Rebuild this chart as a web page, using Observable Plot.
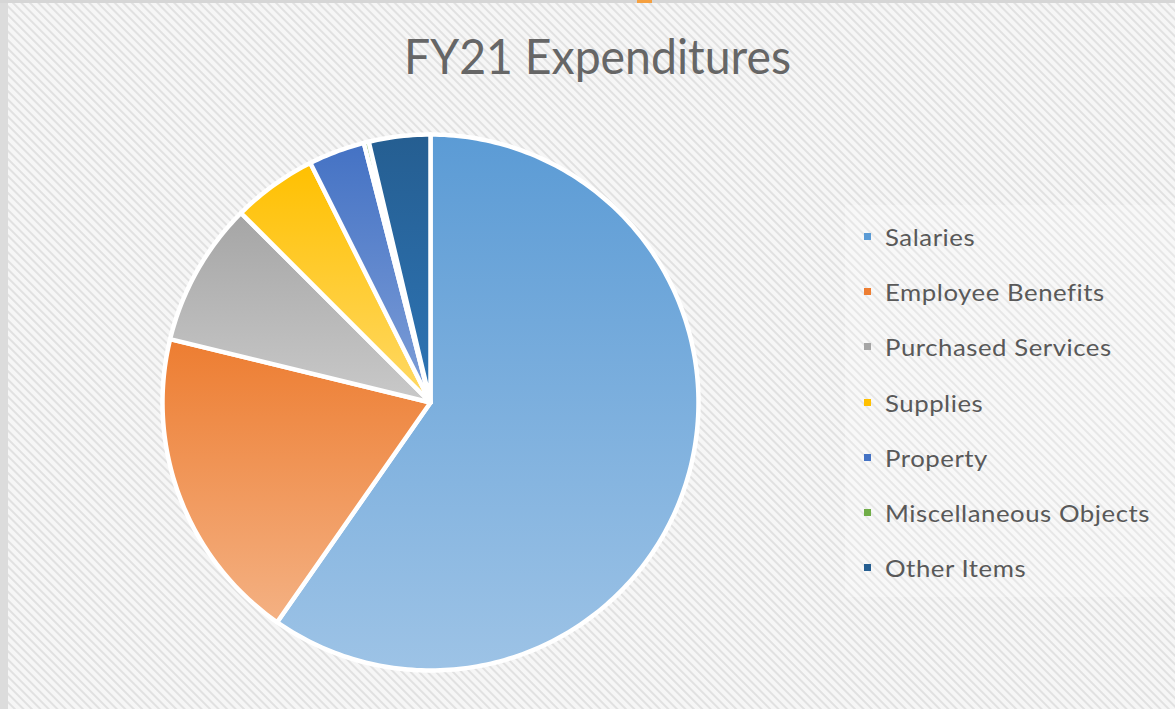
<!DOCTYPE html>
<html>
<head>
<meta charset="utf-8">
<script src="https://cdn.jsdelivr.net/npm/d3@7"></script>
<script src="https://cdn.jsdelivr.net/npm/@observablehq/plot@0.6"></script>
<style>
  html, body { margin: 0; padding: 0; }
  body { width: 1175px; height: 709px; overflow: hidden; position: relative;
    background: repeating-linear-gradient(45deg, #f6f6f6 0px, #f6f6f6 3px, #e1e1e1 4px, #e1e1e1 5px, #f6f6f6 6px);
    font-family: Lato, "Open Sans", sans-serif; }
  #leftbar { position: absolute; left: 0; top: 0; width: 8px; height: 709px; background: #dcdcdc; }
  #topbar { position: absolute; left: 0; top: 0; width: 1175px; height: 3px; background: #d6d6d6; }
  #topmark { position: absolute; left: 637px; top: 0; width: 15px; height: 3px; background: #f5a040; }
  #title { position: absolute; top: 26px; left: 0; white-space: nowrap; font-size: 49px; color: #666;
    transform-origin: left top; }
  #legbox { position: absolute; left: 845px; top: 205px; width: 330px; height: 392px; background: rgba(255,255,255,0.22); }
  .leg { position: absolute; left: 864px; white-space: nowrap; height: 30px; }
  .sw { position: absolute; left: 0; top: 10px; width: 7px; height: 7px; }
  .lt { position: absolute; left: 21px; top: 0; font-size: 24px; color: #595959; transform-origin: left top; white-space: nowrap; line-height: 28px; letter-spacing: 0.5px; }
  #chart { position: absolute; left: 0; top: 0; }
</style>
</head>
<body>
<div id="leftbar"></div>
<div id="topbar"></div>
<div id="topmark"></div>
<div id="legbox"></div>
<div id="title">FY21 Expenditures</div>
<div id="legend"></div>
<div id="chart"></div>
<script>
const categories = ["Salaries", "Employee Benefits", "Purchased Services", "Supplies", "Property", "Miscellaneous Objects", "Other Items"];
const shares = [59.7, 19.1, 8.7, 5.1, 3.4, 0.3, 3.7];
const topColors = ["#5b9bd5", "#ed7d31", "#a5a5a5", "#ffc000", "#4472c4", "#70ad47", "#255e91"];
const bottomColors = ["#9dc3e6", "#f4b183", "#c9c9c9", "#ffd966", "#7f9fd8", "#a9d18e", "#2e75b6"];

// Build slice outlines from cumulative shares (clockwise from 12 o'clock)
const total = d3.sum(shares);
const rows = [];
let acc = 0;
categories.forEach((cat, i) => {
  const a0 = acc / total * 2 * Math.PI;
  acc += shares[i];
  const a1 = acc / total * 2 * Math.PI;
  const n = Math.max(2, Math.ceil((a1 - a0) / (Math.PI / 180)));
  rows.push({cat, x: 0, y: 0});
  for (let k = 0; k <= n; k++) {
    const a = a0 + (a1 - a0) * k / n;
    rows.push({cat, x: Math.sin(a), y: Math.cos(a)});
  }
  rows.push({cat, x: 0, y: 0});
});

const cx = 430, cy = 402, r = 268;
const svg = Plot.plot({
  width: 1175,
  height: 709,
  margin: 0,
  style: {background: "transparent", overflow: "visible"},
  x: {domain: [-1, 1], range: [cx - r, cx + r], axis: null},
  y: {domain: [-1, 1], range: [cy + r, cy - r], axis: null},
  color: {domain: categories, range: categories.map((_, i) => `url(#grad${i})`)},
  marks: [
    Plot.line(rows, {x: "x", y: "y", z: "cat", fill: "cat", stroke: "white", strokeWidth: 4.5, strokeLinejoin: "round"})
  ]
});
const defs = d3.select(svg).insert("defs", ":first-child");
categories.forEach((_, i) => {
  const g = defs.append("linearGradient").attr("id", `grad${i}`).attr("x1", 0).attr("y1", 0).attr("x2", 0).attr("y2", 1);
  g.append("stop").attr("offset", "0%").attr("stop-color", topColors[i]);
  g.append("stop").attr("offset", "100%").attr("stop-color", bottomColors[i]);
});
document.getElementById("chart").appendChild(svg);

// Title: fit to reference width, centered
const title = document.getElementById("title");
const tw = title.getBoundingClientRect().width;
const tScale = 387 / tw;
title.style.transform = `scaleX(${tScale})`;
title.style.left = (597 - 387 / 2) + "px";

// Legend
const legend = document.getElementById("legend");
const legRowTop = 223, legStep = 55.2;
const items = categories.map((c, i) => {
  const d = document.createElement("div");
  d.className = "leg";
  d.style.top = (legRowTop + i * legStep) + "px";
  d.innerHTML = `<div class="sw" style="background:${topColors[i]}"></div><div class="lt">${c}</div>`;
  legend.appendChild(d);
  return d.querySelector(".lt");
});
const maxW = d3.max(items, el => el.getBoundingClientRect().width);
const lScale = 265 / maxW;
items.forEach(el => el.style.transform = `scaleX(${lScale})`);
</script>
</body>
</html>
